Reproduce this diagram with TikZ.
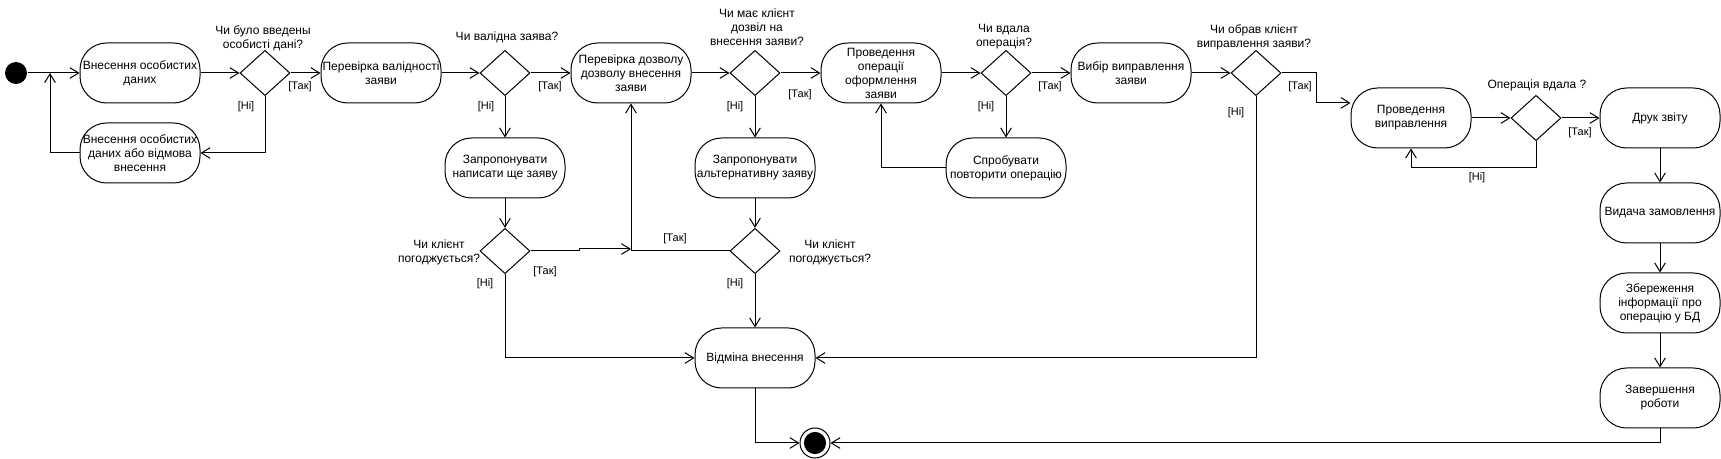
\documentclass[tikz,border=0pt]{standalone}
\usepackage{fontspec}
\setmainfont{Liberation Sans}
\usetikzlibrary{shapes.geometric,arrows.meta}
\newcommand{\zb}[1]{\makebox[0pt]{#1}}
\begin{document}
\begin{tikzpicture}[x=0.75pt,y=-0.75pt,line width=0.75pt,
  >={Straight Barb[length=6.5pt,width=8pt]},
  act/.style={draw, rounded corners=20pt, minimum width=90pt, minimum height=45pt, inner sep=0pt, align=center, font=\fontsize{9}{10.5}\selectfont},
  dec/.style={draw, diamond, minimum width=37.5pt, minimum height=34pt, inner sep=0pt},
  qlab/.style={align=center, font=\fontsize{9}{10.5}\selectfont, inner sep=0pt},
  elab/.style={font=\fontsize{8.25}{9.9}\selectfont, inner sep=0pt},
]
\useasboundingbox (0,0) rectangle (1721,459);

% nodes
\node[fill, circle, minimum size=16.5pt, inner sep=0pt] (st) at (16,73) {};
\node[act] (n1) at (140,73) {\zb{Внесення особистих}\\\zb{даних}};
\node[dec] (d1) at (265,73) {};
\node[qlab] (q1) at (263,38) {Чи було введены\\особисті дані?};
\node[act] (n1b) at (140,153) {\zb{Внесення особистих}\\\zb{даних або відмова}\\\zb{внесення}};
\node[act] (n2) at (381,73) {\zb{Перевірка валідності}\\\zb{заяви}};
\node[dec] (d2) at (505,73) {};
\node[qlab] (q2) at (507,37) {Чи валідна заява?};
\node[act] (n3) at (505,168) {\zb{Запропонувати}\\\zb{написати ще заяву}};
\node[dec] (d7) at (505,251) {};
\node[qlab] (q7) at (439,252) {Чи клієнт\\погоджується?};
\node[act] (n4) at (631,73) {\zb{Перевірка дозволу}\\\zb{дозволу внесення}\\\zb{заяви}};
\node[dec] (d3) at (755,73) {};
\node[qlab] (q3) at (757,27) {Чи має клієнт\\дозвіл на\\внесення заяви?};
\node[act] (n5) at (755,168) {\zb{Запропонувати}\\\zb{альтернативну заяву}};
\node[dec] (d8) at (755,251) {};
\node[qlab] (q8) at (830,252) {Чи клієнт\\погоджується?};
\node[act] (n14) at (755,358) {\zb{Відміна внесення}};
\node[circle, draw, minimum size=22.5pt, inner sep=0pt] (en) at (815,443) {};
\fill (en.center) circle (8.3pt);
\node[act] (n6) at (881,73) {\zb{Проведення}\\\zb{операції}\\\zb{оформлення}\\\zb{заяви}};
\node[dec] (d4) at (1006,73) {};
\node[qlab] (q4) at (1004,37) {Чи вдала\\операція?};
\node[act] (n7) at (1006,168) {\zb{Спробувати}\\\zb{повторити операцію}};
\node[act] (n8) at (1131,73) {\zb{Вибір виправлення}\\\zb{заяви}};
\node[dec] (d5) at (1256,73) {};
\node[qlab] (q5) at (1254,37) {Чи обрав клієнт\\виправлення заяви?};
\node[act] (n9) at (1411,118) {\zb{Проведення}\\\zb{виправлення}};
\node[dec] (d6) at (1536,118) {};
\node[qlab] (q6) at (1537,85) {Операція вдала ?};
\node[act] (n10) at (1660,118) {\zb{Друк звіту}};
\node[act] (n11) at (1660,213) {\zb{Видача замовлення}};
\node[act] (n12) at (1660,303) {\zb{Збереження}\\\zb{інформації про}\\\zb{операцію у БД}};
\node[act] (n13) at (1660,398) {\zb{Завершення}\\\zb{роботи}};

% edge labels
\node[elab] (t1) at (300,87) {[Так]};
\node[elab] (h1) at (246,107) {[Ні]};
\node[elab] (t2) at (550,87) {[Так]};
\node[elab] (h2) at (486,107) {[Ні]};
\node[elab] (t3) at (800,95) {[Так]};
\node[elab] (h3) at (735,107) {[Ні]};
\node[elab] (t4) at (1050,87) {[Так]};
\node[elab] (h4) at (986,107) {[Ні]};
\node[elab] (t5) at (1300,87) {[Так]};
\node[elab] (h5) at (1236,113) {[Ні]};
\node[elab] (t6) at (1580,133) {[Так]};
\node[elab] (h6) at (1477,178) {[Ні]};
\node[elab] (t7) at (545,272) {[Так]};
\node[elab] (h7) at (485,284) {[Ні]};
\node[elab] (t8) at (675,239) {[Так]};
\node[elab] (h8) at (735,284) {[Ні]};

% helper coordinates
\coordinate (j1) at (50,73);
\coordinate (j2) at (631,249);
\coordinate (c6) at (1411,168);

% connectors
\draw[->] (st) -- (n1);
\draw[->] (n1) -- (d1);
\draw[->] (d1) -- (n2);
\draw[->] (d1.south) |- (n1b.east);
\draw[->] (n1b.west) -| (j1);
\draw[->] (n2) -- (d2);
\draw[->] (d2) -- (n4);
\draw[->] (d2) -- (n3);
\draw[->] (n3) -- (d7);
\draw[->] (d7.east) -- ++(49,0) -- ++(0,-2) -- (j2);
\draw[->] (d8.west) -| (n4.south);
\draw[->] (n4) -- (d3);
\draw[->] (d3) -- (n6);
\draw[->] (d3) -- (n5);
\draw[->] (n5) -- (d8);
\draw[->] (d8) -- (n14);
\draw[->] (d7.south) |- (n14.west);
\draw[->] (n6) -- (d4);
\draw[->] (d4) -- (n8);
\draw[->] (d4) -- (n7);
\draw[->] (n7.west) -| (n6.south);
\draw[->] (n8) -- (d5);
\draw[->] (d5.east) -- ++(35,0) |- (n9.166);
\draw[->] (d5.south) |- (n14.east);
\draw[->] (n9) -- (d6);
\draw[->] (d6) -- (n10);
\draw[->] (d6.south) |- (c6) -- (n9.south);
\draw[->] (n10) -- (n11);
\draw[->] (n11) -- (n12);
\draw[->] (n12) -- (n13);
\draw[->] (n13.south) |- (en.east);
\draw[->] (n14.south) |- (en.west);
\end{tikzpicture}
\end{document}
